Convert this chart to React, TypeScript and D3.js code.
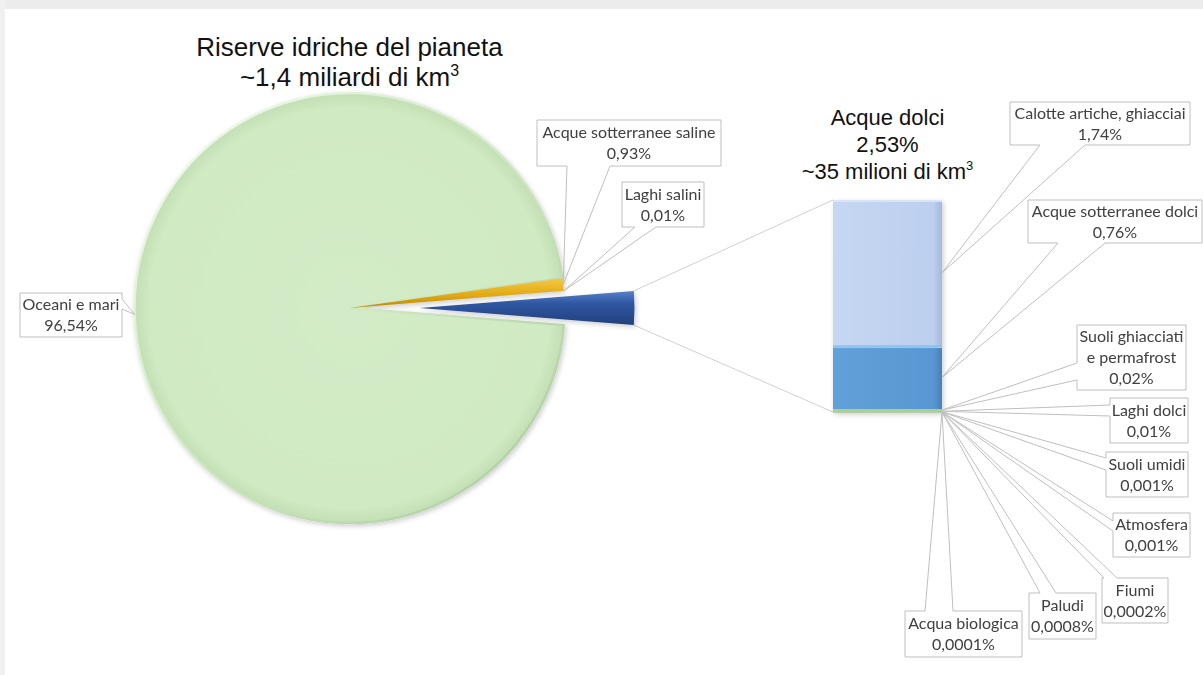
import React from "react";
import * as d3 from "d3";

// ---------- DATA ----------
const pieCategories = ["Oceani e mari", "Acque sotterranee saline", "Laghi salini", "Acque dolci"];
const pieValues = [96.54, 0.93, 0.01, 2.53];

const barCategories = [
  "Calotte artiche, ghiacciai",
  "Acque sotterranee dolci",
  "Suoli ghiacciati e permafrost",
  "Laghi dolci",
  "Suoli umidi",
  "Atmosfera",
  "Fiumi",
  "Paludi",
  "Acqua biologica",
];
const barValues = [1.74, 0.76, 0.02, 0.01, 0.001, 0.001, 0.0002, 0.0008, 0.0001];

const titleLines = ["Riserve idriche del pianeta", "~1,4 miliardi di km"];
const subTitleLines = ["Acque dolci", "2,53%", "~35 milioni di km"];

// ---------- LAYOUT ----------
const W = 1203;
const H = 675;
const cx = 349.5;
const cy = 308;
const R = 215;
const explode = 70;
const barX = 833;
const barW = 109;
const barTop = 200;
const barBottom = 412;

type Box = { x: number; y: number; w: number; h: number; side: "top" | "bottom" | "left" | "right"; b1: number; b2: number; breakAfter?: number };

const pieBoxes: (Box | null)[] = [
  { x: 20, y: 293, w: 102, h: 44, side: "right", b1: 299, b2: 309 },
  { x: 537, y: 120, w: 184, h: 46, side: "bottom", b1: 567, b2: 610 },
  { x: 622, y: 182, w: 82, h: 45, side: "bottom", b1: 635, b2: 656 },
  null,
];
const barBoxes: Box[] = [
  { x: 1010, y: 102, w: 180, h: 43, side: "bottom", b1: 1040, b2: 1085 },
  { x: 1028, y: 200, w: 174, h: 43, side: "bottom", b1: 1058, b2: 1105 },
  { x: 1077, y: 325, w: 109, h: 65, side: "left", b1: 363, b2: 380, breakAfter: 2 },
  { x: 1110, y: 398, w: 78, h: 45, side: "left", b1: 405, b2: 416 },
  { x: 1106, y: 452, w: 82, h: 45, side: "left", b1: 458, b2: 470 },
  { x: 1113, y: 513, w: 77, h: 44, side: "left", b1: 521, b2: 531 },
  { x: 1102, y: 578, w: 66, h: 45, side: "top", b1: 1104, b2: 1117 },
  { x: 1029, y: 593, w: 67, h: 46, side: "top", b1: 1040, b2: 1056 },
  { x: 905, y: 611, w: 117, h: 46, side: "top", b1: 925, b2: 953 },
];

const pieColors = ["url(#gGreen)", "url(#gYellow)", "#a5a5a5", "url(#gBlue)"];
const barColors = ["url(#gCal)", "url(#gSott)", "#a9d18e", "#ffc000", "#8faadc", "#f4b183", "#9dc3e6", "#c9c9c9", "#70ad47"];

const fmt = (v: number) => String(v).replace(".", ",") + "%";

function calloutPath(b: Box, tip: [number, number]) {
  const { x, y, w, h, side, b1, b2 } = b;
  const p: [number, number][] = [];
  p.push([x, y]);
  if (side === "top") p.push([b1, y], tip, [b2, y]);
  p.push([x + w, y]);
  if (side === "right") p.push([x + w, b1], tip, [x + w, b2]);
  p.push([x + w, y + h]);
  if (side === "bottom") p.push([b2, y + h], tip, [b1, y + h]);
  p.push([x, y + h]);
  if (side === "left") p.push([x, b2], tip, [x, b1]);
  return "M" + p.map((q) => q[0] + "," + q[1]).join("L") + "Z";
}

function labelLines(name: string, value: number, breakAfter?: number) {
  if (breakAfter) {
    const words = name.split(" ");
    return [words.slice(0, breakAfter).join(" "), words.slice(breakAfter).join(" "), fmt(value)];
  }
  return [name, fmt(value)];
}

function Callout({ box, tip, lines }: { box: Box; tip: [number, number]; lines: string[] }) {
  const lh = 21;
  const startY = box.y + box.h / 2 - ((lines.length - 1) * lh) / 2;
  return (
    <g>
      <rect x={box.x} y={box.y} width={box.w} height={box.h} fill="#fff" />
      <path d={calloutPath(box, tip)} fill="none" stroke="#bfbfbf" strokeWidth={1} />
      {lines.map((t, i) => (
        <text
          key={i}
          x={box.x + box.w / 2}
          y={startY + i * lh}
          dy="0.35em"
          textAnchor="middle"
          fontFamily="Lato, 'Open Sans', sans-serif"
          fontSize={16}
          fill="#404040"
        >
          {t}
        </text>
      ))}
    </g>
  );
}

export default function App() {
  const total = d3.sum(pieValues);
  const blueIdx = pieValues.length - 1;
  const before = (d3.sum(pieValues.slice(0, blueIdx)) / total) * 2 * Math.PI;
  const half = (pieValues[blueIdx] / total) * Math.PI;
  const start = Math.PI / 2 - half - before;
  const arcs = d3.pie<number>().sort(null).value((d) => d).startAngle(start).endAngle(start + 2 * Math.PI)(pieValues);
  const arcGen = d3.arc<d3.PieArcDatum<number>>().innerRadius(0).outerRadius(R);

  const pt = (a: number, r: number, ox = 0): [number, number] => [cx + ox + r * Math.sin(a), cy - r * Math.cos(a)];

  const blue = arcs[blueIdx];
  const blueTop = pt(blue.startAngle, R, explode);
  const blueBot = pt(blue.endAngle, R, explode);

  const barTotal = d3.sum(barValues);
  const y = d3.scaleLinear().domain([0, barTotal]).range([barTop, barBottom]);
  const cum = barValues.map((_, i) => d3.sum(barValues.slice(0, i)));

  return (
    <svg width={W} height={H} style={{ position: "absolute", left: 0, top: 0, background: "#fff" }}>
      <defs>
        <radialGradient id="gGreen" cx={0} cy={0} r={R} gradientUnits="userSpaceOnUse">
          <stop offset="0%" stopColor="#d3ecc7" />
          <stop offset="93%" stopColor="#d0eac3" />
          <stop offset="100%" stopColor="#c3dfb5" />
        </radialGradient>
        <linearGradient id="gEdge" x1="0" y1="0" x2="1" y2="1">
          <stop offset="0%" stopColor="#f4fcf0" />
          <stop offset="50%" stopColor="#d0e9c3" />
          <stop offset="100%" stopColor="#aac89c" />
        </linearGradient>
        <linearGradient id="gYellow" x1="0" y1="0" x2="0" y2="1">
          <stop offset="0%" stopColor="#f5c842" />
          <stop offset="60%" stopColor="#e0a812" />
          <stop offset="100%" stopColor="#b98a05" />
        </linearGradient>
        <linearGradient id="gBlue" x1="0" y1="0" x2="0" y2="1">
          <stop offset="0%" stopColor="#5a82cc" />
          <stop offset="35%" stopColor="#3058a3" />
          <stop offset="100%" stopColor="#22407c" />
        </linearGradient>
        <linearGradient id="gCal" x1="0" y1="0" x2="1" y2="0">
          <stop offset="0%" stopColor="#c6d7f2" />
          <stop offset="92%" stopColor="#bccfee" />
          <stop offset="100%" stopColor="#a3b8dc" />
        </linearGradient>
        <linearGradient id="gSott" x1="0" y1="0" x2="1" y2="0">
          <stop offset="0%" stopColor="#62a0d8" />
          <stop offset="92%" stopColor="#5897d2" />
          <stop offset="100%" stopColor="#4a80b8" />
        </linearGradient>
        <filter id="shadow" x="-10%" y="-10%" width="120%" height="120%">
          <feDropShadow dx="1.5" dy="2" stdDeviation="2.5" floodColor="#000" floodOpacity="0.2" />
        </filter>
      </defs>

      <rect x={0} y={0} width={W} height={9} fill="#ececec" />
      <rect x={0} y={0} width={5} height={H} fill="#f0f0f0" />

      <text x={cx} y={47} dy="0.35em" textAnchor="middle" fontFamily="'Liberation Sans', Arial, sans-serif" fontSize={26} fill="#111">
        {titleLines[0]}
      </text>
      <text x={cx} y={77} dy="0.35em" textAnchor="middle" fontFamily="'Liberation Sans', Arial, sans-serif" fontSize={26} fill="#111">
        {titleLines[1]}
        <tspan fontSize={16} dy={-10}>3</tspan>
      </text>
      {subTitleLines.map((t, i) => (
        <text key={i} x={barX + barW / 2} y={117 + i * 27} dy="0.35em" textAnchor="middle" fontFamily="'Liberation Sans', Arial, sans-serif" fontSize={22} fill="#111">
          {t}
          {i === 2 && <tspan fontSize={13} dy={-9}>3</tspan>}
        </text>
      ))}

      <line x1={blueTop[0]} y1={blueTop[1]} x2={barX} y2={barTop} stroke="#d0d0d0" strokeWidth={1} />
      <line x1={blueBot[0]} y1={blueBot[1]} x2={barX} y2={barBottom} stroke="#d0d0d0" strokeWidth={1} />

      <g filter="url(#shadow)">
        {arcs.map((a, i) => {
          const ox = i === blueIdx ? explode : 0;
          return (
            <path
              key={i}
              d={arcGen(a) || ""}
              transform={`translate(${cx + ox},${cy})`}
              fill={pieColors[i]}
              stroke={i === 0 ? "url(#gEdge)" : "none"}
              strokeWidth={i === 0 ? 2.5 : 0}
            />
          );
        })}
      </g>

      <g filter="url(#shadow)">
        {barValues.map((v, i) => (
          <rect key={i} x={barX} y={y(cum[i])} width={barW} height={Math.max(0.3, y(cum[i] + v) - y(cum[i]))} fill={barColors[i]} />
        ))}
      </g>
      <rect x={barX} y={y(cum[1])} width={barW} height={2.5} fill="#8cc6f2" />
      <rect x={barX} y={barTop} width={barW} height={2} fill="#d9e5f7" />
      <rect x={barX} y={y(cum[2])} width={barW} height={2} fill="#a9d18e" />

      {arcs.map((a, i) => {
        const b = pieBoxes[i];
        if (!b) return null;
        const tip = pt((a.startAngle + a.endAngle) / 2, R);
        return <Callout key={i} box={b} tip={tip} lines={labelLines(pieCategories[i], pieValues[i])} />;
      })}

      {barValues.map((v, i) => {
        const tip: [number, number] = [barX + barW, y(cum[i] + v / 2)];
        return <Callout key={i} box={barBoxes[i]} tip={tip} lines={labelLines(barCategories[i], v, barBoxes[i].breakAfter)} />;
      })}
    </svg>
  );
}
